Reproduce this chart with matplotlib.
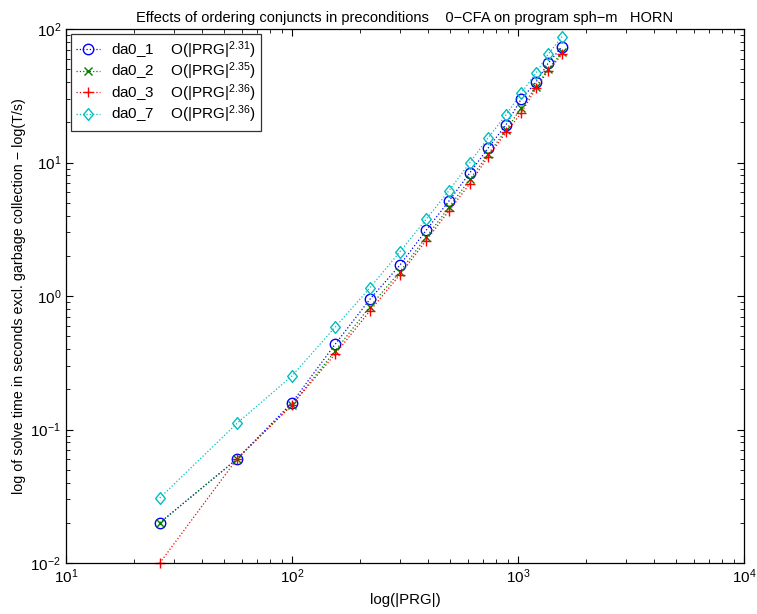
import matplotlib
matplotlib.use("Agg")
import matplotlib.pyplot as plt
from matplotlib.path import Path
from matplotlib.ticker import LogLocator, NullFormatter

plt.rcParams['font.family'] = ['Liberation Sans', 'DejaVu Sans']
plt.rcParams['mathtext.default'] = 'regular'

# program sizes |PRG|
prg = [26, 57, 100, 155, 221, 300, 392, 495, 613, 737, 885, 1031, 1200, 1358, 1566]

# solve times (s) per ordering
da0_1 = [0.02, 0.06, 0.159, 0.434, 0.944, 1.70, 3.10, 5.15, 8.39, 12.8, 19.2, 29.7, 39.9, 55.3, 73.7]
da0_2 = [0.02, 0.06, 0.153, 0.387, 0.832, 1.52, 2.75, 4.62, 7.48, 11.5, 17.5, 25.5, 37.0, 49.9, 66.9]
da0_3 = [0.01, 0.06, 0.153, 0.366, 0.772, 1.44, 2.60, 4.35, 6.96, 11.05, 16.8, 23.4, 35.9, 48.5, 64.6]
da0_7 = [0.0307, 0.111, 0.252, 0.583, 1.15, 2.14, 3.75, 6.15, 10.0, 15.3, 22.7, 33.0, 46.6, 64.6, 87.5]

names = ['da0_1', 'da0_2', 'da0_3', 'da0_7']
exponents = ['2.31', '2.35', '2.36', '2.36']

# matlab-like diamond, a bit narrower than tall
diamond = Path([(0, 1), (0.82, 0), (0, -1), (-0.82, 0), (0, 1)],
               [Path.MOVETO, Path.LINETO, Path.LINETO, Path.LINETO, Path.CLOSEPOLY])

fig = plt.figure(figsize=(7.57, 6.14), dpi=100)
ax = fig.add_axes([66/757, 1 - 563/614, (744 - 66)/757, (563 - 29)/614])

styles = [('o', 7.5, (0, 0, 1)), ('x', 5.5, (0, 0.5, 0)),
          ('+', 7.5, (1, 0, 0)), (diamond, 8.5, (0, 0.75, 0.75))]
for vals, name, ex, (mk, ms, col) in zip([da0_1, da0_2, da0_3, da0_7], names, exponents, styles):
    lab = name + '    O(|PRG|$^{' + ex + '}$)'
    ax.plot(prg, vals, linestyle=':', linewidth=0.9, color=col, marker=mk,
            markersize=ms, markerfacecolor='none', markeredgecolor=col,
            markeredgewidth=1.0, label=lab, clip_on=False)

ax.set_xscale('log')
ax.set_yscale('log')
ax.set_xlim(10, 1e4)
ax.set_ylim(1e-2, 1e2)

ax.xaxis.set_minor_locator(LogLocator(base=10, subs=range(2, 10), numticks=20))
ax.yaxis.set_minor_locator(LogLocator(base=10, subs=range(2, 10), numticks=20))
ax.xaxis.set_minor_formatter(NullFormatter())
ax.yaxis.set_minor_formatter(NullFormatter())
ax.tick_params(which='both', direction='in', top=True, right=True, labelsize=11)
ax.tick_params(which='major', length=5, width=0.8)
ax.tick_params(which='minor', length=3, width=0.6)
for s in ax.spines.values():
    s.set_linewidth(0.9)

ax.set_title('Effects of ordering conjuncts in preconditions    0\u2212CFA on program sph\u2212m   HORN',
             fontsize=10.5, pad=5)
ax.set_xlabel('log(|PRG|)', fontsize=10.8, labelpad=5)
ax.set_ylabel('log of solve time in seconds excl. garbage collection \u2212 log(T/s)',
              fontsize=10.3, labelpad=3)

leg = ax.legend(loc='upper left', fontsize=11, frameon=True, fancybox=False,
                edgecolor='black', borderaxespad=0.3, handlelength=1.6,
                handletextpad=0.7, labelspacing=0.0, borderpad=0.35)
leg.get_frame().set_linewidth(0.9)

fig.savefig('out.png', dpi=100)
